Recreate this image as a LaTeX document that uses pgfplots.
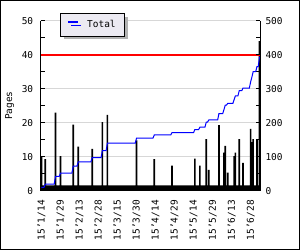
\documentclass[border=0pt]{standalone}
\usepackage{fontspec}
\setmainfont{DejaVu Sans Mono}
\usepackage{pgfplots}
\pgfplotsset{compat=1.18}
\usetikzlibrary{shadows}
\definecolor{legfill}{RGB}{236,234,242}
\definecolor{gridgray}{RGB}{215,215,215}
\begin{document}
\begin{tikzpicture}[font=\fontsize{9.5}{11}\selectfont]
\useasboundingbox (-40.7bp,-59.3bp) rectangle (259.3bp,190.7bp);
\draw[black, line width=1bp] (-40.2bp,-58.8bp) rectangle (258.8bp,190.2bp);
\begin{axis}[
  at={(0bp,0bp)}, anchor=south west,
  scale only axis, width=219.3bp, height=170bp,
  xmin=-0.63, xmax=172.4, ymin=0, ymax=50,
  axis x line*=bottom, axis y line*=left,
  axis line style={line width=1bp, -},
  ytick={0,10,...,50}, minor ytick={5,15,...,45},
  xtick={0,15,...,165},
  xticklabels={15'1/14,15'1/29,15'2/13,15'2/28,15'3/15,15'3/30,15'4/14,15'4/29,15'5/14,15'5/29,15'6/13,15'6/28},
  x tick label style={rotate=90, anchor=east},
  xticklabel shift=6bp,
  yticklabel shift=4bp,
  xtick style={draw=none},
  tick align=inside, major tick length=4bp, minor tick length=4bp,
  tick style={black, line width=0.8bp},
  ymajorgrids, grid style={gridgray, line width=0.8bp},
  ylabel={Pages},
  ylabel style={at={(axis description cs:-0.141,0.5)}, anchor=center, rotate=0},
  /pgf/number format/assume math mode=true,
]
\addplot[ybar, bar width=1.3, bar shift=0pt, fill=black, draw=none] coordinates {
(0,10)(1,1.6)(2,1.6)(3,9.3)(4,1.6)(5,1.6)(6,1.6)(7,1.6)(8,1.6)(9,1.6)
(10,1.6)(11,23)(12,1.6)(13,1.6)(14,1.6)(15,10.2)(16,1.6)(17,1.6)(18,1.6)(19,1.6)
(20,1.6)(21,1.6)(22,1.6)(23,1.6)(24,1.6)(25,19.4)(26,1.6)(27,1.6)(28,1.6)(29,13)
(30,1.6)(31,1.6)(32,1.6)(33,1.6)(34,1.6)(35,1.6)(36,1.6)(37,1.6)(38,1.6)(39,1.6)
(40,12.3)(41,1.6)(42,1.6)(43,1.6)(44,1.6)(45,1.6)(46,1.6)(47,1.6)(48,20.2)(49,1.6)
(50,1.6)(51,1.6)(52,22.3)(53,1.6)(54,1.6)(55,1.6)(56,1.6)(57,1.6)(58,1.6)(59,1.6)
(60,1.6)(61,1.6)(62,1.6)(63,1.6)(64,1.6)(65,1.6)(66,1.6)(67,1.6)(68,1.6)(69,1.6)
(70,1.6)(71,1.6)(72,1.6)(73,1.6)(74,1.6)(75,14.8)(76,1.6)(77,1.6)(78,1.6)(79,1.6)
(80,1.6)(81,1.6)(82,1.6)(83,1.6)(84,1.6)(85,1.6)(86,1.6)(87,1.6)(88,1.6)(89,9.3)
(90,1.6)(91,1.6)(92,1.6)(93,1.6)(94,1.6)(95,1.6)(96,1.6)(97,1.6)(98,1.6)(99,1.6)
(100,1.6)(101,1.6)(102,1.6)(103,7.4)(104,1.6)(105,1.6)(106,1.6)(107,1.6)(108,1.6)(109,1.6)
(110,1.6)(111,1.6)(112,1.6)(113,1.6)(114,1.6)(115,1.6)(116,1.6)(117,1.6)(118,1.6)(119,1.6)
(120,1.6)(121,9.4)(122,1.6)(123,1.6)(124,1.6)(125,7.4)(126,1.6)(127,1.6)(128,1.6)(129,1.6)
(130,15.2)(131,1.6)(132,6.1)(133,1.6)(134,1.6)(135,1.6)(136,1.6)(137,1.6)(138,1.6)(139,1.6)
(140,19.3)(141,1.6)(142,1.6)(143,1.6)(144,11.2)(145,13.2)(146,1.6)(147,5.3)(148,1.6)(149,1.6)
(150,1.6)(151,1.6)(152,10.2)(153,11.2)(154,1.6)(155,1.6)(156,15.2)(157,1.6)(158,1.6)(159,8.2)
(160,1.6)(161,1.6)(162,1.6)(163,1.6)(164,1.6)(165,18.2)(166,14.3)(167,15.2)(168,1.6)(169,1.6)
(170,15.2)(171,1.6)(172,44)
};
\addplot[red, line width=2bp] coordinates {(-0.63,40) (172.4,40)};
\end{axis}
\begin{axis}[
  at={(0bp,0bp)}, anchor=south west,
  scale only axis, width=219.3bp, height=170bp,
  xmin=-0.63, xmax=172.4, ymin=0, ymax=500,
  axis y line*=right, axis x line=none,
  axis line style={line width=1bp, -},
  ytick={0,100,...,500}, minor ytick={50,150,...,450},
  yticklabel shift=2bp,
  tick align=inside, major tick length=4bp, minor tick length=4bp,
  tick style={black, line width=0.8bp},
  /pgf/number format/assume math mode=true,
  legend style={at={(0.0894,1.0435)}, anchor=north west, fill=legfill, draw=black, line width=0.8bp,
    inner xsep=7bp, inner ysep=5bp,
    drop shadow={shadow xshift=3bp, shadow yshift=-3bp, fill=black!30, opacity=1},
    font=\fontsize{9.5}{11}\selectfont},
  legend image code/.code={\draw[#1, line width=1.5bp] (0bp,3bp) -- (10bp,3bp);},
]
\addplot[blue, line width=1bp] coordinates {
(0,10)(2,10)(3,19)(10,19)(11,42)(14,42)(15,52)(24,52)(25,72)(28,72)(29,85)(39,85)(40,97)
(47,97)(48,118)(51,118)(52,140)(74,140)(75,155)(88,155)(89,164)(102,164)(103,171)
(120,171)(121,180)(124,180)(125,187)(129,187)(130,202)(131,202)(132,208)(139,208)(140,227)
(143,227)(144,239)(145,252)(146,252)(147,257)(151,257)(152,268)(153,279)(155,279)(156,294)
(158,294)(159,302)(164,302)(165,320)(166,334)(167,350)(169,350)(170,365)(171,365)(172,394)
};
\addlegendentry{\hspace*{6bp}Total}
\end{axis}
\end{tikzpicture}
\end{document}
